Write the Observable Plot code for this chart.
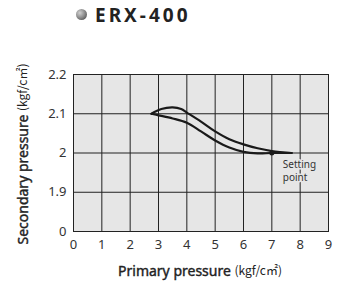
<!DOCTYPE html>
<html>
<head>
<meta charset="utf-8">
<script src="https://cdn.jsdelivr.net/npm/d3@7"></script>
<script src="https://cdn.jsdelivr.net/npm/@observablehq/plot@0.6"></script>
<style>
  body { margin: 0; background: #fff; font-family: "Noto Sans", sans-serif; }
  #wrap { position: relative; width: 339px; height: 286px; }
  #title { position: absolute; left: 0; top: 0; width: 339px; height: 30px; }
  #title .dot { position: absolute; left: 76px; top: 9px; width: 11px; height: 11px; border-radius: 50%;
    background: radial-gradient(circle at 35% 35%, #d0d0d0 0%, #8a8a8a 50%, #3a3a3a 100%); }
  #title .txt { position: absolute; left: 95px; top: 0px; font-size: 19px; font-weight: 700; letter-spacing: 3px; color: #222; line-height: 30px; }
  #chart { position: absolute; left: 0; top: 30px; }
</style>
</head>
<body>
<div id="wrap">
  <div id="title"><span class="dot"></span><span class="txt">ERX-400</span></div>
  <div id="chart"></div>
</div>
<script>
const xTicks = [0, 1, 2, 3, 4, 5, 6, 7, 8, 9];
const yTicks = [1.8, 1.9, 2.0, 2.1, 2.2];
const yTickLabels = ["0", "1.9", "2", "2.1", "2.2"];

const upperX = [2.75, 3.1, 3.5, 3.8, 4.0, 4.5, 5.0, 5.5, 6.0, 6.5, 7.0, 7.7];
const upperY = [2.1, 2.112, 2.116, 2.112, 2.103, 2.08, 2.055, 2.035, 2.022, 2.012, 2.005, 2.0];
const lowerX = [2.75, 3.0, 3.5, 4.0, 4.5, 5.0, 5.5, 6.0, 6.5, 7.0, 7.7];
const lowerY = [2.1, 2.096, 2.088, 2.077, 2.055, 2.032, 2.014, 2.003, 1.999, 2.0, 2.0];

const settingX = [7.0];
const settingY = [2.0];
const settingLine1 = ["Setting"];
const settingLine2 = ["point"];

const upper = upperX.map((x, i) => ({x, y: upperY[i]}));
const lower = lowerX.map((x, i) => ({x, y: lowerY[i]}));
const setting = settingX.map((x, i) => ({x, y: settingY[i], l1: settingLine1[i], l2: settingLine2[i]}));

const plot = Plot.plot({
  width: 339,
  height: 256,
  marginLeft: 73,
  marginRight: 11,
  marginTop: 44,
  marginBottom: 55,
  style: {fontFamily: "Noto Sans, sans-serif", fontSize: "13px", color: "#333", background: "transparent"},
  x: {domain: [0, 9], ticks: xTicks, label: null},
  y: {domain: [1.8, 2.2], ticks: yTicks, label: null},
  marks: [
    Plot.frame({fill: "#e6e6e6", stroke: null}),
    Plot.gridX(xTicks, {stroke: "#222", strokeOpacity: 1, strokeWidth: 1}),
    Plot.gridY(yTicks, {stroke: "#222", strokeOpacity: 1, strokeWidth: 1}),
    Plot.frame({stroke: "#222", strokeWidth: 1}),
    Plot.text(setting, {x: "x", y: "y", text: "l1", dx: 11, dy: 12, textAnchor: "start", lineAnchor: "middle", fontSize: 10, fill: "#333", stroke: "#e6e6e6", strokeWidth: 3}),
    Plot.text(setting, {x: "x", y: "y", text: "l2", dx: 11, dy: 25, textAnchor: "start", lineAnchor: "middle", fontSize: 10, fill: "#333", stroke: "#e6e6e6", strokeWidth: 3}),
    Plot.line(upper, {x: "x", y: "y", curve: "catmull-rom", stroke: "#1a1a1a", strokeWidth: 2.2}),
    Plot.line(lower, {x: "x", y: "y", curve: "catmull-rom", stroke: "#1a1a1a", strokeWidth: 2.2}),
    Plot.dot(setting, {x: "x", y: "y", r: 2.5, fill: "#1a1a1a"}),
    Plot.axisX(xTicks, {tickSize: 0, tickPadding: 8, fill: "#333", fontSize: 13}),
    Plot.axisY(yTicks, {tickSize: 0, tickPadding: 7, fill: "#333", fontSize: 13, tickFormat: (d) => yTickLabels[yTicks.indexOf(d)]})
  ]
});

document.getElementById("chart").appendChild(plot);

const svg = d3.select(plot);
const xl = svg.append("text")
  .attr("x", 200).attr("y", 241.5)
  .attr("text-anchor", "middle").attr("dominant-baseline", "middle")
  .attr("fill", "#222");
xl.append("tspan").attr("font-size", 14).attr("font-weight", 400).attr("stroke", "#222").attr("stroke-width", 0.4).text("Primary pressure ");
xl.append("tspan").attr("font-size", 12).attr("font-weight", 400).attr("font-family", "Noto Sans CJK JP").text("(kgf/c㎡)");

const yl = svg.append("text")
  .attr("transform", "translate(24,124) rotate(-90)")
  .attr("text-anchor", "middle").attr("dominant-baseline", "middle")
  .attr("fill", "#222");
yl.append("tspan").attr("font-size", 14).attr("font-weight", 400).attr("stroke", "#222").attr("stroke-width", 0.4).text("Secondary pressure ");
yl.append("tspan").attr("font-size", 12).attr("font-weight", 400).attr("font-family", "Noto Sans CJK JP").text("(kgf/c㎡)");
</script>
</body>
</html>
